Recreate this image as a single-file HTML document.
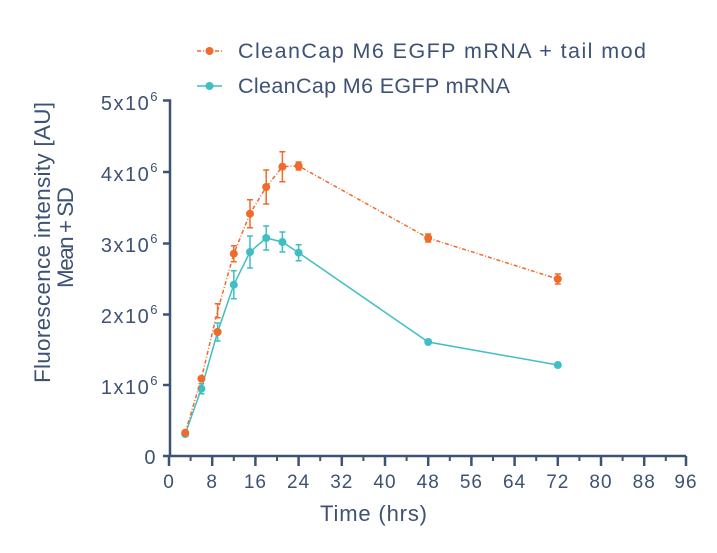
<!DOCTYPE html>
<html><head><style>
html,body{margin:0;padding:0;background:#fff;}
svg text{font-family:"Liberation Sans",sans-serif;fill:#3d5275;}
</style></head><body>
<svg width="717" height="548" viewBox="0 0 717 548" xmlns="http://www.w3.org/2000/svg">
<!-- legend -->
<line x1="197" y1="51" x2="222" y2="51" stroke="#f06a2a" stroke-width="1.5" stroke-dasharray="4,2,1,2"/>
<circle cx="209.5" cy="51" r="4" fill="#f06a2a"/>
<text x="238" y="58" font-size="21.5" textLength="408" lengthAdjust="spacing">CleanCap M6 EGFP mRNA + tail mod</text>
<line x1="197" y1="86" x2="222" y2="86" stroke="#3fbfc4" stroke-width="1.5"/>
<circle cx="209.5" cy="86" r="4" fill="#3fbfc4"/>
<text x="238" y="93" font-size="21.5" textLength="272" lengthAdjust="spacing">CleanCap M6 EGFP mRNA</text>
<!-- axes -->
<g stroke="#3d5275" stroke-width="2.5" fill="none">
<path d="M163 100.5 H170 V456 H686"/>
<path d="M163 172 H170 M163 243.5 H170 M163 314.5 H170 M163 385 H170 M163 456 H170"/>
<path d="M169 456 V466 M212.2 456 V466 M255.4 456 V466 M298.6 456 V466 M341.8 456 V466 M385 456 V466 M428.2 456 V466 M471.4 456 V466 M514.6 456 V466 M557.8 456 V466 M601 456 V466 M644.2 456 V466 M686 456 V466"/>
<path stroke-width="2" d="M190.6 456 V461 M233.8 456 V461 M277 456 V461 M320.2 456 V461 M363.4 456 V461 M406.6 456 V461 M449.8 456 V461 M493 456 V461 M536.2 456 V461 M579.4 456 V461 M622.6 456 V461 M665.8 456 V461"/>
</g>
<g font-size="20" text-anchor="end" letter-spacing="1.5">
<text x="159" y="110">5x10<tspan font-size="13" dy="-9">6</tspan></text>
<text x="159" y="181">4x10<tspan font-size="13" dy="-9">6</tspan></text>
<text x="159" y="252">3x10<tspan font-size="13" dy="-9">6</tspan></text>
<text x="159" y="323">2x10<tspan font-size="13" dy="-9">6</tspan></text>
<text x="159" y="394">1x10<tspan font-size="13" dy="-9">6</tspan></text>
<text x="157" y="464">0</text>
</g>
<g font-size="19" text-anchor="middle" letter-spacing="1">
<text x="169" y="488">0</text><text x="212.2" y="488">8</text><text x="255.4" y="488">16</text><text x="298.6" y="488">24</text><text x="341.8" y="488">32</text><text x="385" y="488">40</text><text x="428.2" y="488">48</text><text x="471.4" y="488">56</text><text x="514.6" y="488">64</text><text x="557.8" y="488">72</text><text x="601" y="488">80</text><text x="644.2" y="488">88</text><text x="686" y="488">96</text>
</g>
<text x="320" y="521" font-size="22" textLength="107" lengthAdjust="spacing">Time (hrs)</text>
<text transform="translate(50,383) rotate(-90)" x="0" y="0" font-size="22.5" textLength="281" lengthAdjust="spacing">Fluorescence intensity [AU]</text>
<text transform="translate(73,288) rotate(-90)" x="0" y="0" font-size="22.5" textLength="101" lengthAdjust="spacing">Mean + SD</text>
<!-- teal series -->
<g stroke="#3fbfc4" stroke-width="1.5" fill="none">
<polyline points="185.2,434 201.4,388.7 217.6,332 233.8,284.7 250,252 266.2,238 282.4,242 298.6,252.7 428.2,342 557.8,365"/>
<path d="M201.4,383.7V393.7M198.4,383.7H204.4M198.4,393.7H204.4
M217.6,323V341M214.6,323H220.6M214.6,341H220.6
M233.8,270.7V298.7M230.8,270.7H236.8M230.8,298.7H236.8
M250,236V268M247,236H253M247,268H253
M266.2,226V250M263.2,226H269.2M263.2,250H269.2
M282.4,232V252M279.4,232H285.4M279.4,252H285.4
M298.6,244.7V260.7M295.6,244.7H301.6M295.6,260.7H301.6"/>
</g>
<g fill="#3fbfc4">
<circle cx="185.2" cy="434" r="4"/><circle cx="201.4" cy="388.7" r="4"/><circle cx="217.6" cy="332" r="4"/><circle cx="233.8" cy="284.7" r="4"/><circle cx="250" cy="252" r="4"/><circle cx="266.2" cy="238" r="4"/><circle cx="282.4" cy="242" r="4"/><circle cx="298.6" cy="252.7" r="4"/><circle cx="428.2" cy="342" r="4"/><circle cx="557.8" cy="365" r="4"/>
</g>
<!-- orange series -->
<g stroke="#f06a2a" stroke-width="1.5" fill="none">
<polyline stroke-dasharray="4,2,1,2" points="185.2,432.7 201.4,378.7 217.6,310.7 233.8,253.7 250,213.7 266.2,187 282.4,166.7 298.6,166 428.2,238 557.8,279"/>
<path d="M217.6,303.7V317.7M214.6,303.7H220.6M214.6,317.7H220.6
M233.8,245.7V261.7M230.8,245.7H236.8M230.8,261.7H236.8
M250,199.7V227.7M247,199.7H253M247,227.7H253
M266.2,170V204M263.2,170H269.2M263.2,204H269.2
M282.4,151.7V181.7M279.4,151.7H285.4M279.4,181.7H285.4
M298.6,162V170M295.6,162H301.6M295.6,170H301.6
M428.2,234V242M425.2,234H431.2M425.2,242H431.2
M557.8,274V284M554.8,274H560.8M554.8,284H560.8"/>
</g>
<g fill="#f06a2a">
<circle cx="185.2" cy="432.7" r="4"/><circle cx="201.4" cy="378.7" r="4"/><circle cx="217.6" cy="332" r="4"/><circle cx="233.8" cy="253.7" r="4"/><circle cx="250" cy="213.7" r="4"/><circle cx="266.2" cy="187" r="4"/><circle cx="282.4" cy="166.7" r="4"/><circle cx="298.6" cy="166" r="4"/><circle cx="428.2" cy="238" r="4"/><circle cx="557.8" cy="279" r="4"/>
</g>
</svg>
</body></html>
